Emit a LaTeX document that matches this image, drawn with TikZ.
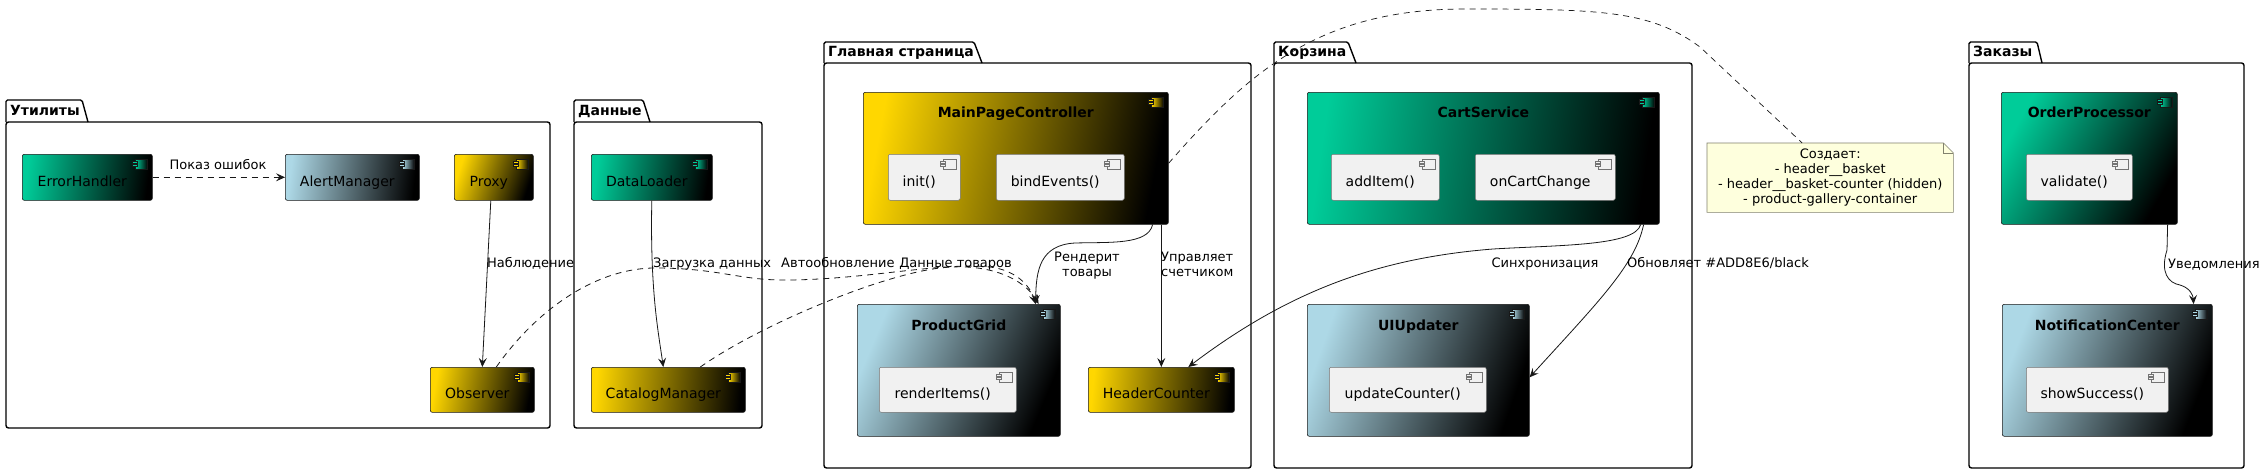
\documentclass[tikz,border=0pt]{standalone}
\usepackage{fontspec}
\setmainfont{DejaVu Sans}
\usetikzlibrary{arrows.meta,calc}
\definecolor{cgreen}{RGB}{0,204,153}
\definecolor{cblue}{HTML}{ADD8E6}
\definecolor{cgold}{HTML}{FFD700}
\definecolor{cinner}{HTML}{F1F1F1}
\definecolor{cline}{HTML}{181818}
\definecolor{cnote}{HTML}{FEFFDD}
\definecolor{cnoteb}{RGB}{130,130,110}
\tikzset{
  comp/.style={rectangle, draw=cline, line width=0.6pt, rounded corners=2pt, inner sep=0pt, anchor=north west},
  gcol/.style 2 args={top color=#1, bottom color=black, shading angle=#2},
  inner/.style={rectangle, draw=black!55, line width=0.5pt, rounded corners=2pt, inner sep=0pt, anchor=north west, fill=cinner},
  ctxt/.style={inner sep=0pt, font=\fontsize{14pt}{16pt}\selectfont, text height=11pt, text depth=3pt},
  ttl/.style={inner sep=0pt, font=\fontsize{14pt}{16pt}\selectfont\bfseries, text height=11pt, text depth=3pt},
  lbl/.style={inner sep=0pt, font=\fontsize{13pt}{15pt}\selectfont, text height=10pt, text depth=3pt},
  mlbl/.style={inner sep=0pt, font=\fontsize{13pt}{15pt}\selectfont},
  pkgline/.style={draw=black, line width=1.4pt},
  arr/.style={draw=cline, line width=0.8pt, -{Stealth[length=9pt,width=8pt,inset=3.5pt]}},
  dsh/.style={dash pattern=on 6pt off 5pt},
}
\newcommand{\cicon}[2]{%
  \begin{scope}[shift={(#1.north east)}]
    \path[draw=cline, line width=0.4pt, left color=#2, right color=black] (-17,5) rectangle (-5,15);
    \path[draw=cline, line width=0.4pt, fill=#2] (-20,7.5) rectangle (-15,9.5);
    \path[draw=cline, line width=0.4pt, fill=#2] (-20,10.5) rectangle (-15,12.5);
  \end{scope}}
\newcommand{\gicon}[1]{%
  \begin{scope}[shift={(#1.north east)}]
    \path[draw=black!55, line width=0.5pt, fill=cinner] (-17,5) rectangle (-4,15);
    \path[draw=black!55, line width=0.5pt, fill=cinner] (-20,7.5) rectangle (-15,9.5);
    \path[draw=black!55, line width=0.5pt, fill=cinner] (-20,10.5) rectangle (-15,12.5);
  \end{scope}}
\newcommand{\pkgshape}[7]{%
  \draw[pkgline, rounded corners=1.5pt] (#1,#5) -- (#1,#2) -- (#3,#2) -- (#4,#5);
  \draw[pkgline, rounded corners=2.5pt] (#1,#5) rectangle (#6,#7);}
\begin{document}
\begin{tikzpicture}[x=1pt,y=-1pt]
\useasboundingbox (0,0) rectangle (2266,474);
\fill[white] (0,0) rectangle (2266,474);

% packages
\pkgshape{6}{100}{82}{88}{122}{550}{428}
\node[ttl, anchor=west] (p-util) at (10,111) {Утилиты};
\pkgshape{574}{100}{643}{650}{122}{762}{428}
\node[ttl, anchor=west] (p-data) at (578,111) {Данные};
\pkgshape{824}{42}{974}{982}{63}{1251}{468}
\node[ttl, anchor=west] (p-main) at (828,52.5) {Главная страница};
\pkgshape{1274}{42}{1348}{1356}{63}{1692}{468}
\node[ttl, anchor=west] (p-cart) at (1278,52.5) {Корзина};
\pkgshape{1969}{42}{2037}{2042}{63}{2244}{468}
\node[ttl, anchor=west] (p-ord) at (1973,52.5) {Заказы};

% Утилиты
\node[comp, gcol={cgreen}{82.9}, minimum width=130pt, minimum height=46pt] (eh) at (22,154) {};
\node[ctxt] (eh-t) at ($(eh.center)+(-5,5)$) {ErrorHandler};
\cicon{eh}{cgreen}
\node[comp, gcol={cblue}{83.3}, minimum width=134pt, minimum height=46pt] (am) at (285,154) {};
\node[ctxt] (am-t) at ($(am.center)+(-5,5)$) {AlertManager};
\cicon{am}{cblue}
\node[comp, gcol={cgold}{71.3}, minimum width=79pt, minimum height=46pt] (px) at (454,154) {};
\node[ctxt] (px-t) at ($(px.center)+(-5,5)$) {Proxy};
\cicon{px}{cgold}
\node[comp, gcol={cgold}{79.4}, minimum width=104pt, minimum height=45pt] (ob) at (430,367) {};
\node[ctxt] (ob-t) at ($(ob.center)+(-5,5)$) {Observer};
\cicon{ob}{cgold}

% Данные
\node[comp, gcol={cgreen}{81.8}, minimum width=121pt, minimum height=46pt] (dl) at (591,154) {};
\node[ctxt] (dl-t) at ($(dl.center)+(-5,5)$) {DataLoader};
\cicon{dl}{cgreen}
\node[comp, gcol={cgold}{85.1}, minimum width=154pt, minimum height=45pt] (cm) at (591,367) {};
\node[ctxt] (cm-t) at ($(cm.center)+(-5,5)$) {CatalogManager};
\cicon{cm}{cgold}

% Главная страница
\node[comp, gcol={cgold}{79.4}, minimum width=305pt, minimum height=132pt] (mpc) at (863,92) {};
\node[ttl] (mpc-t) at ($(mpc.north)+(0,21)$) {MainPageController};
\cicon{mpc}{cgold}
\node[inner, minimum width=72pt, minimum height=46pt] (init) at (888,154) {};
\node[ctxt] (init-t) at ($(init.center)+(-5,5)$) {init()};
\gicon{init}
\node[inner, minimum width=128pt, minimum height=46pt] (bind) at (996,154) {};
\node[ctxt] (bind-t) at ($(bind.center)+(-5,5)$) {bindEvents()};
\gicon{bind}
\node[comp, gcol={cblue}{67.1}, minimum width=203pt, minimum height=132pt] (pg) at (857,304) {};
\node[ttl] (pg-t) at ($(pg.north)+(0,22)$) {ProductGrid};
\cicon{pg}{cblue}
\node[inner, minimum width=137pt, minimum height=45pt] (ri) at (879,367) {};
\node[ctxt] (ri-t) at ($(ri.center)+(-5,5)$) {renderItems()};
\gicon{ri}
\node[comp, gcol={cgold}{84.6}, minimum width=146pt, minimum height=45pt] (hc) at (1088,367) {};
\node[ctxt] (hc-t) at ($(hc.center)+(-5,5)$) {HeaderCounter};
\cicon{hc}{cgold}

% Корзина
\node[comp, gcol={cgreen}{82.0}, minimum width=352pt, minimum height=132pt] (cs) at (1307,92) {};
\node[ttl] (cs-t) at ($(cs.north)+(0,21)$) {CartService};
\cicon{cs}{cgreen}
\node[inner, minimum width=108pt, minimum height=46pt] (add) at (1331,154) {};
\node[ctxt] (add-t) at ($(add.center)+(-5,5)$) {addItem()};
\gicon{add}
\node[inner, minimum width=140pt, minimum height=46pt] (occ) at (1475,154) {};
\node[ctxt] (occ-t) at ($(occ.center)+(-5,5)$) {onCartChange};
\gicon{occ}
\node[comp, gcol={cblue}{70.5}, minimum width=222pt, minimum height=132pt] (uiu) at (1307,304) {};
\node[ttl] (uiu-t) at ($(uiu.north)+(0,22)$) {UIUpdater};
\cicon{uiu}{cblue}
\node[inner, minimum width=157pt, minimum height=45pt] (uc) at (1329,367) {};
\node[ctxt] (uc-t) at ($(uc.center)+(-5,5)$) {updateCounter()};
\gicon{uc}

% Заказы
\node[comp, gcol={cgreen}{60.6}, minimum width=176pt, minimum height=132pt] (op) at (2001,92) {};
\node[ttl] (op-t) at ($(op.north)+(0,21)$) {OrderProcessor};
\cicon{op}{cgreen}
\node[inner, minimum width=106pt, minimum height=46pt] (val) at (2026,154) {};
\node[ctxt] (val-t) at ($(val.center)+(-5,5)$) {validate()};
\gicon{val}
\node[comp, gcol={cblue}{68.4}, minimum width=210pt, minimum height=132pt] (nc) at (2002,304) {};
\node[ttl] (nc-t) at ($(nc.north)+(0,22)$) {NotificationCenter};
\cicon{nc}{cblue}
\node[inner, minimum width=142pt, minimum height=45pt] (ss) at (2026,367) {};
\node[ctxt] (ss-t) at ($(ss.center)+(-5,5)$) {showSuccess()};
\gicon{ss}

% note
\node[rectangle, inner sep=0pt, minimum width=246pt, minimum height=69pt, anchor=north west] (note) at (1707,143) {};
\fill[cnote] (note.north west) -- ($(note.north east)+(-10,0)$) -- ($(note.north east)+(0,10)$) -- (note.south east) -- (note.south west) -- cycle;
\draw[cnoteb, line width=0.6pt] (note.north west) -- ($(note.north east)+(-10,0)$) -- ($(note.north east)+(0,10)$) -- (note.south east) -- (note.south west) -- cycle;
\draw[cnoteb, line width=0.6pt] ($(note.north east)+(-10,0)$) -- ($(note.north east)+(-10,10)$) -- ($(note.north east)+(0,10)$);
\node[mlbl, align=center] (note-t) at (note.center) {Создает:\\- header\_\_basket\\- header\_\_basket-counter (hidden)\\- product-gallery-container};

% connectors
\draw[arr, dsh] (eh.east) -- (am.west);
\node[lbl] (l1) at (218,166) {Показ ошибок};

\draw[arr] ($(px.south)+(-3,0)$) -- (ob.north);
\node[lbl, anchor=west] (l2) at (487,264) {Наблюдение};

\draw[arr] (dl.south) .. controls (650,290) and (658,330) .. ($(cm.north)+(-5,0)$);
\node[lbl, anchor=west] (l3) at (653,264) {Загрузка данных};

\draw[arr, dsh] ($(ob.north)+(14,0)$) .. controls (540,305) and (600,268) .. (655,268)
   .. controls (720,268) and (740,281) .. (790,280)
   .. controls (870,279) and (940,262) .. (990,267)
   .. controls (1015,270) and (1030,285) .. ($(pg.north east)+(-25,0)$);
\node[lbl, anchor=west] (l4) at (781,264) {Автообновление};

\draw[arr, dsh] ($(cm.north)+(32,0)$) .. controls (760,325) and (880,275) .. (940,268)
   .. controls (990,262) and (1025,280) .. ($(pg.north east)+(-22,0)$);
\node[lbl, anchor=east] (l5) at (1012,264) {Данные товаров};

\draw[arr] ($(mpc.south east)+(-16,0)$) .. controls (1148,245) and (1110,242) .. (1075,243)
   .. controls (1040,245) and (1036,270) .. ($(pg.north east)+(-25,0)$);
\node[mlbl, align=center] (l6) at (1087,265.5) {Рендерит\\товары};

\draw[arr] (hc.north |- mpc.south) -- (hc.north);
\node[mlbl, align=left, anchor=west] (l7) at (1161,264.5) {Управляет\\счетчиком};

\draw[arr] ($(cs.south east)+(-19,0)$) .. controls (1635,246) and (1560,245) .. (1493,249)
   .. controls (1380,258) and (1290,290) .. ($(hc.north)+(27,0)$);
\node[lbl] (l8) at (1545,264) {Синхронизация};

\draw[arr] ($(cs.south east)+(-16,0)$) .. controls (1635,265) and (1600,300) .. ($(uiu.east)+(0,7)$);
\node[lbl, anchor=west] (l9) at (1627,264) {Обновляет \#ADD8E6/black};

\draw[arr] ($(op.south east)+(-10,0)$) -- (2167,250) .. controls (2160,272) and (2168,283) .. (2180,285)
   .. controls (2190,288) and (2193,295) .. ($(nc.north east)+(-19,0)$);
\node[lbl, anchor=west] (l10) at (2168,265) {Уведомления};

\draw[cline, line width=0.7pt, dsh] ($(mpc.east)+(0,5)$) .. controls (1250,70) and (1320,10) .. (1462,9)
   .. controls (1600,9) and (1650,10) .. (1700,47) -- ($(note.north)+(-28,0)$);
\end{tikzpicture}
\end{document}
